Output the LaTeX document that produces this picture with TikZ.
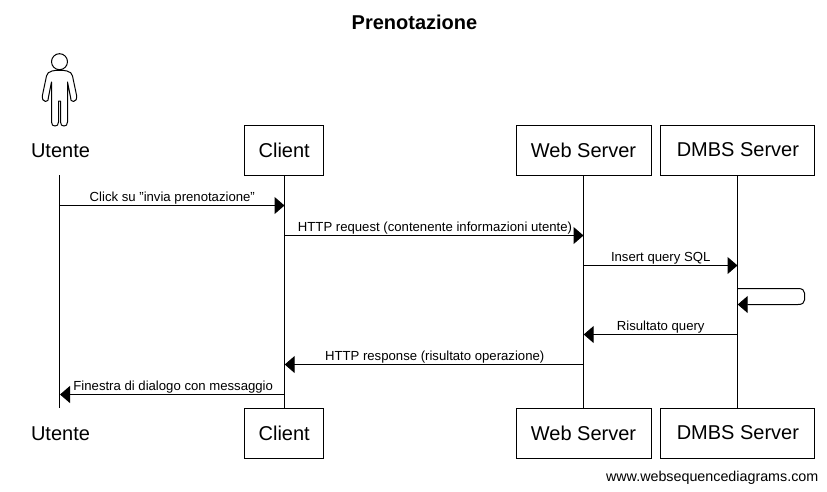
\documentclass[tikz,border=0pt]{standalone}
\usepackage{fontspec}
\setmainfont{Liberation Sans}
\usetikzlibrary{arrows.meta}
\tikzset{
  part/.style={draw=black,line width=1pt,fill=white,minimum height=50,inner sep=0pt,font=\fontsize{20}{24}\selectfont,text=black},
  plain/.style={inner sep=0pt,font=\fontsize{20}{24}\selectfont},
  life/.style={draw=black,line width=1pt},
  msg/.style={draw=black,line width=1pt,-{Triangle[length=10,width=17]}},
  lab/.style={inner sep=0pt,anchor=base,font=\fontsize{13.15}{15}\selectfont},
}
\begin{document}
\begin{tikzpicture}[x=1pt,y=-1pt]
\useasboundingbox (0,0) rectangle (827,491);
\fill[white] (0,0) rectangle (827,491);
\node[inner sep=0pt,font=\bfseries\fontsize{20}{24}\selectfont] (title) at (414.5,22.5) {Prenotazione};
% lifelines
\node[plain] (u1) at (60.5,150.5) {Utente};
\node[plain] (u2) at (60.5,433.5) {Utente};
\node[part,minimum width=79] (c1) at (284.2,150) {Client};
\node[part,minimum width=79] (c2) at (284.2,433) {Client};
\node[part,minimum width=135] (w1) at (583.5,150) {Web Server};
\node[part,minimum width=135] (w2) at (583.5,433) {Web Server};
\node[part,minimum width=154] (d1) at (737.9,150) {DMBS Server};
\node[part,minimum width=154] (d2) at (737.9,433) {DMBS Server};
\coordinate (utop) at (59.5,175);
\coordinate (ubot) at (59.5,408);
\draw[life] (utop) -- (ubot);
\draw[life] (c1.south) -- (c2.north);
\draw[life] (w1.south) -- (w2.north);
\draw[life] (d1.south) -- (d2.north);
% actor
\draw[black,line width=1pt,line join=round] (59.5,61.7) circle (8);
\draw[black,line width=1pt,line join=round]
  (52,71) .. controls (49,72) and (47,73) .. (46.5,76)
  -- (42.5,95) .. controls (42,99) and (43,101.5) .. (45.5,101.5)
  .. controls (48,101.5) and (48.5,100) .. (48.5,97)
  -- (51.5,82) -- (51.5,122)
  .. controls (51.5,125) and (53,126) .. (55,126)
  .. controls (57,126) and (58.5,125) .. (58.5,122)
  -- (58.5,101) -- (60.5,101) -- (60.5,122)
  .. controls (60.5,125) and (62,126) .. (64,126)
  .. controls (66,126) and (67.5,125) .. (67.5,122)
  -- (67.5,82) -- (70.5,97)
  .. controls (70.5,100) and (71,101.5) .. (73.5,101.5)
  .. controls (76,101.5) and (77,99) .. (76.5,95)
  -- (72.5,76) .. controls (72,73) and (70,72) .. (67,71);
\draw[black,line width=1pt] (52,71) .. controls (56,70) and (63,70) .. (67,71);
% messages
\coordinate (m1a) at (59.5,205.5);  \coordinate (m1b) at (284.5,205.5);
\coordinate (m2a) at (284.2,235.5); \coordinate (m2b) at (583.5,235.5);
\coordinate (m3a) at (583.5,265.5); \coordinate (m3b) at (737.5,265.5);
\coordinate (m4a) at (737.9,288.5); \coordinate (m4b) at (737.7,304.5);
\coordinate (m5a) at (737.9,334.5); \coordinate (m5b) at (583.7,334.5);
\coordinate (m6a) at (583.5,364.5); \coordinate (m6b) at (284.7,364.5);
\coordinate (m7a) at (284.2,394.5); \coordinate (m7b) at (60,394.5);
\draw[msg] (m1a) -- (m1b);
\draw[msg] (m2a) -- (m2b);
\draw[msg] (m3a) -- (m3b);
\draw[msg] (m4a) -- (798,288.5) .. controls (802,288.5) and (804.5,290) .. (804.5,293)
  -- (804.5,300) .. controls (804.5,303) and (802,304.5) .. (798,304.5) -- (m4b);
\draw[msg] (m5a) -- (m5b);
\draw[msg] (m6a) -- (m6b);
\draw[msg] (m7a) -- (m7b);
\node[lab] (l1) at (172.3,201.5) {Click su "invia prenotazione"};
\node[lab] (l2) at (435,231.5) {HTTP request (contenente informazioni utente)};
\node[lab] (l3) at (660.7,261.5) {Insert query SQL};
\node[lab] (l5) at (660.7,330.5) {Risultato query};
\node[lab] (l6) at (434.7,360.5) {HTTP response (risultato operazione)};
\node[lab] (l7) at (173.2,390.5) {Finestra di dialogo con messaggio};
\node[inner sep=0pt,anchor=base east,font=\fontsize{14.3}{16}\selectfont] (wm) at (818.5,481) {www.websequencediagrams.com};
\end{tikzpicture}
\end{document}
